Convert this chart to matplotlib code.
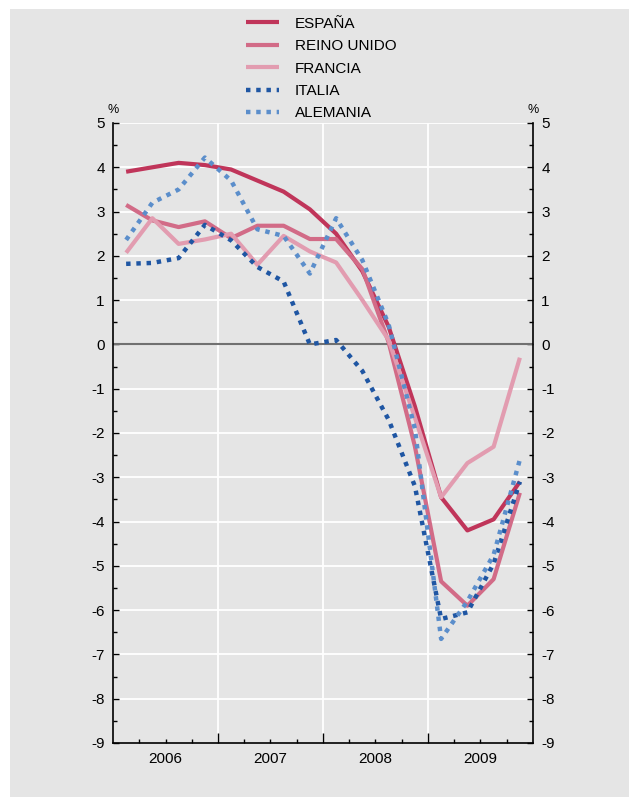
import numpy as np
import matplotlib.pyplot as plt
from matplotlib.patches import Rectangle
from matplotlib.ticker import MultipleLocator

plt.rcParams['font.family'] = ['Liberation Sans', 'DejaVu Sans']
plt.rcParams['axes.unicode_minus'] = False

# quarterly GDP growth, 2006Q1 .. 2009Q4 (%)
years = ["2006", "2007", "2008", "2009"]
espana = [3.9, 4.0, 4.1, 4.05, 3.95, 3.7, 3.45, 3.05,
          2.5, 1.65, 0.4, -1.4, -3.45, -4.2, -3.95, -3.1]
reino_unido = [3.15, 2.8, 2.65, 2.78, 2.4, 2.68, 2.68, 2.38,
               2.38, 1.7, 0.05, -2.3, -5.35, -5.9, -5.3, -3.35]
francia = [2.07, 2.85, 2.27, 2.37, 2.5, 1.8, 2.45, 2.1,
           1.85, 1.0, 0.1, -1.65, -3.45, -2.68, -2.31, -0.3]
italia = [1.82, 1.84, 1.95, 2.7, 2.35, 1.75, 1.42, 0.0,
          0.1, -0.6, -1.7, -3.2, -6.2, -6.05, -4.95, -3.1]
alemania = [2.36, 3.2, 3.5, 4.22, 3.7, 2.6, 2.45, 1.6,
            2.85, 1.9, 0.45, -1.9, -6.65, -5.8, -4.75, -2.6]

names = ["ESPAÑA", "REINO UNIDO", "FRANCIA", "ITALIA", "ALEMANIA"]
series = [espana, reino_unido, francia, italia, alemania]
colors = ["#C0355A", "#D26B87", "#E29CB0", "#1F56A3", "#5B8ECB"]
styles = ["-", "-", "-", (0, (1, 1.3)), (0, (1, 1.3))]
widths = [3.0, 3.0, 3.0, 3.2, 3.2]

bg = "#E5E5E5"
fig = plt.figure(figsize=(6.29, 7.97), dpi=100, facecolor="white")
fig.patches.append(Rectangle((10 / 629, 0), 1, 1 - 9 / 797, transform=fig.transFigure,
                             facecolor=bg, edgecolor="none", zorder=-1))

ax = fig.add_axes([113 / 629, 54 / 797, 420 / 629, 620 / 797])
ax.set_facecolor(bg)

x = np.arange(len(espana)) + 0.5
for vals, name, c, ls, lw in zip(series, names, colors, styles, widths):
    ax.plot(x, vals, color=c, linestyle=ls, linewidth=lw, label=name,
            solid_capstyle="butt", dash_capstyle="butt", zorder=3)

ax.set_xlim(0, 16)
ax.set_ylim(-9, 5)

# grid
for yv in range(-8, 6):
    if yv == 0:
        ax.axhline(0, color="#707070", linewidth=1.5, zorder=2)
    else:
        ax.axhline(yv, color="white", linewidth=1.3, zorder=1)
for xv in [4, 8, 12]:
    ax.axvline(xv, color="white", linewidth=1.3, zorder=1)

ax.spines["top"].set_visible(False)
for s in ["left", "right", "bottom"]:
    ax.spines[s].set_color("black")
    ax.spines[s].set_linewidth(1.2)

ax.yaxis.set_major_locator(MultipleLocator(1))
ax.yaxis.set_minor_locator(MultipleLocator(0.5))
ax.tick_params(axis="y", which="both", direction="in", left=True, right=True,
               labelleft=True, labelright=True, labelsize=11, pad=6)
ax.tick_params(axis="y", which="major", length=4, width=1)
ax.tick_params(axis="y", which="minor", length=3, width=1)

ax.set_xticks([4, 8, 12])
ax.set_xticks(np.arange(1, 16), minor=True)
ax.set_xticklabels([])
ax.tick_params(axis="x", which="major", direction="in", length=7, width=1, top=False)
ax.tick_params(axis="x", which="minor", direction="in", length=3, width=1, top=False)
for i, yr in enumerate(years):
    ax.text(4 * i + 2, -9.2, yr, ha="center", va="top", fontsize=11)

ax.text(0, 5.15, "%", ha="center", va="bottom", fontsize=9)
ax.text(16, 5.15, "%", ha="center", va="bottom", fontsize=9)

handles, labels = ax.get_legend_handles_labels()
fig.legend(handles, labels, loc="upper left", bbox_to_anchor=(232 / 629, 1 - 3 / 797),
           frameon=False, fontsize=11, handlelength=2.2, handletextpad=1.0,
           labelspacing=0.55)

fig.savefig("out.png", dpi=100, facecolor=fig.get_facecolor())
